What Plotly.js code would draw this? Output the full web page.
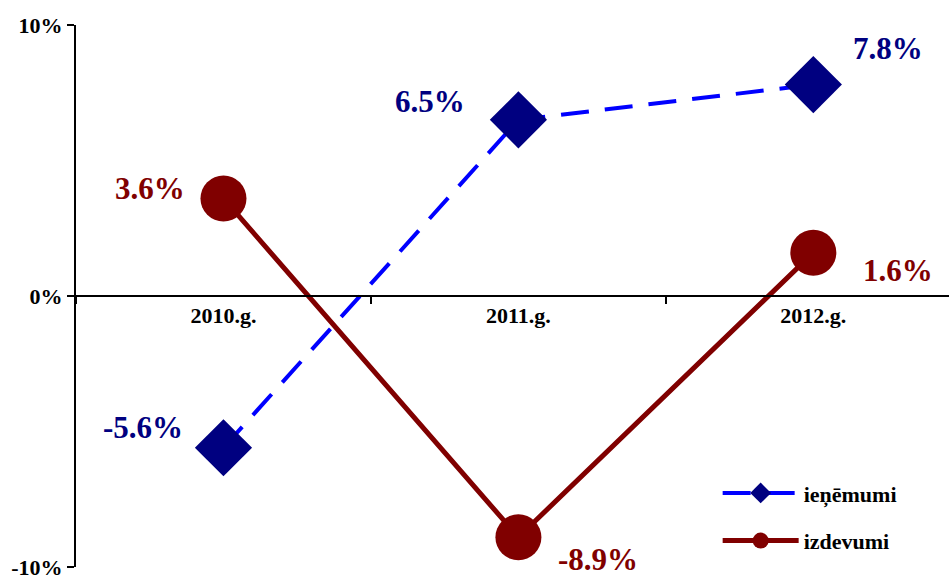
<!DOCTYPE html>
<html><head><meta charset="utf-8">
<script src="https://cdn.plot.ly/plotly-3.0.1.min.js"></script>
<style>html,body{margin:0;padding:0;background:#fff}#c{width:949px;height:581px}</style>
</head><body><div id="c"></div>
<script>
const categories = ['2010.g.', '2011.g.', '2012.g.'];
const ienemumi = [-5.6, 6.5, 7.8];
const izdevumi = [3.6, -8.9, 1.6];
const seriesNames = ['ieņēmumi', 'izdevumi'];
const yTicks = [-10, 0, 10];

const F = 'Liberation Serif, Times New Roman, serif';
const navy = '#000080', blue = '#0000FF', dred = '#800000';

const traces = [
  {x: categories, y: ienemumi, name: seriesNames[0], legendgroup: 'a', type: 'scatter', mode: 'lines+markers',
   line: {color: blue, width: 4, dash: '28px,16px'},
   marker: {symbol: 'diamond', size: 44, color: navy}},
  {x: categories, y: izdevumi, name: seriesNames[1], legendgroup: 'b', type: 'scatter', mode: 'lines+markers',
   line: {color: dred, width: 5},
   marker: {symbol: 'circle', size: 46, color: dred}}
];

// label offsets (style only)
const ienOff = [[-80, 20], [-88, 18], [75, 36]];
const izdOff = [[-73, 10], [80, -22], [85, -18]];
const annotations = [];
ienemumi.forEach((v, i) => annotations.push({x: categories[i], y: v, xref: 'x', yref: 'y',
  text: '<b>' + v.toFixed(1) + '%</b>', showarrow: false, xshift: ienOff[i][0], yshift: ienOff[i][1],
  font: {family: F, size: 31, color: navy}}));
izdevumi.forEach((v, i) => annotations.push({x: categories[i], y: v, xref: 'x', yref: 'y',
  text: '<b>' + v.toFixed(1) + '%</b>', showarrow: false, xshift: izdOff[i][0], yshift: izdOff[i][1],
  font: {family: F, size: 31, color: dred}}));

const layout = {
  width: 949, height: 581,
  margin: {l: 76, r: 0, t: 25, b: 14},
  paper_bgcolor: '#fff', plot_bgcolor: '#fff',
  showlegend: true,
  legend: {x: 0.735, y: 0.175, xanchor: 'left', yanchor: 'top', bgcolor: 'rgba(0,0,0,0)',
    font: {family: F, size: 22, color: '#000', weight: 'bold'}, itemwidth: 76, tracegroupgap: 16},
  xaxis: {type: 'category', range: [-0.5, 2.46], anchor: 'free', position: 0.5,
    showgrid: false, zeroline: false, showline: true, linecolor: '#000', linewidth: 2,
    ticks: 'outside', tickson: 'boundaries', ticklen: 7, tickwidth: 2, tickcolor: '#000',
    tickfont: {family: F, size: 22, color: '#000', weight: 'bold'}},
  yaxis: {range: [-10, 10], tickvals: yTicks, ticktext: yTicks.map(v => '<b>' + v + '%</b>'),
    ticklabeloverflow: 'allow',
    showgrid: false, zeroline: false, showline: true, linecolor: '#000', linewidth: 2,
    ticks: 'outside', ticklen: 7, tickwidth: 2, tickcolor: '#000',
    tickfont: {family: F, size: 22, color: '#000'}},
  annotations: annotations
};
Plotly.newPlot('c', traces, layout, {displayModeBar: false, staticPlot: true});
</script></body></html>
